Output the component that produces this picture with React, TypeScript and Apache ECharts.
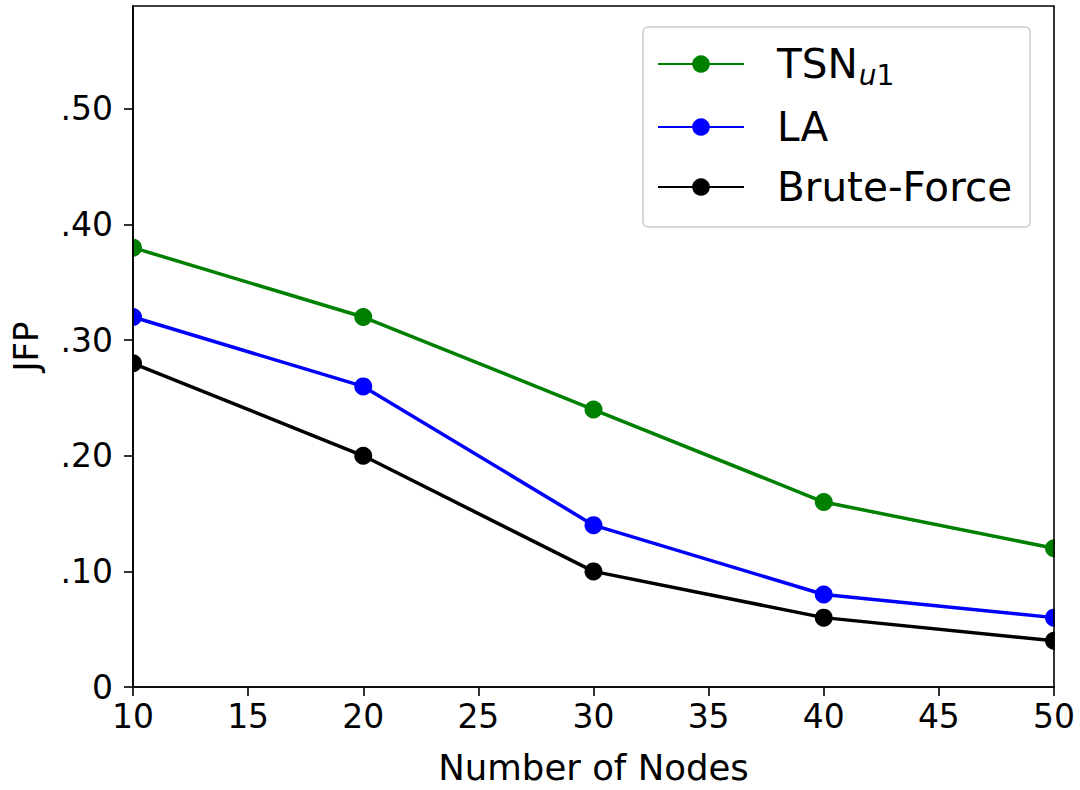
import React, { useEffect, useRef } from "react";
import * as echarts from "echarts";

// Number of nodes on the x axis
const nodes = [10, 20, 30, 40, 50];

// JFP per method
const tsnU1 = [0.38, 0.32, 0.24, 0.16, 0.12];
const la = [0.32, 0.26, 0.14, 0.08, 0.06];
const bruteForce = [0.28, 0.2, 0.1, 0.06, 0.04];

const yTicks = [0, 0.1, 0.2, 0.3, 0.4, 0.5];
const xTicks = [10, 15, 20, 25, 30, 35, 40, 45, 50];

const FONT = "DejaVu Sans";

const GRID = { left: 133, right: 26, top: 6, bottom: 97 };

export default function App() {
  const ref = useRef<HTMLDivElement>(null);

  useEffect(() => {
    if (!ref.current) return;
    const chart = echarts.init(ref.current, null, { renderer: "svg" });

    const pair = (ys: number[]) => nodes.map((x, i) => [x, ys[i]]);

    const mkSeries = (name: string, color: string, ys: number[]) => ({
      name,
      type: "line",
      data: pair(ys),
      symbol: "circle",
      symbolSize: 18,
      lineStyle: { color, width: 3.5 },
      itemStyle: { color },
      z: 2,
    });

    const W = 1080;
    const H = 790;
    const plotBottom = H - GRID.bottom;

    chart.setOption({
      animation: false,
      backgroundColor: "#ffffff",
      textStyle: { fontFamily: FONT },
      grid: {
        ...GRID,
        show: true,
        borderColor: "#000000",
        borderWidth: 1.6,
        backgroundColor: "transparent",
        z: 10,
      },
      xAxis: {
        type: "value",
        min: 10,
        max: 50,
        interval: 5,
        z: 10,
        name: "Number of Nodes",
        nameLocation: "middle",
        nameGap: 62,
        nameTextStyle: { fontFamily: FONT, fontSize: 35.5, color: "#000" },
        axisLine: { show: true, lineStyle: { color: "#000", width: 1.6 } },
        axisTick: {
          show: true,
          length: 9,
          inside: false,
          lineStyle: { color: "#000", width: 1.6 },
          customValues: xTicks,
        },
        axisLabel: {
          fontFamily: FONT,
          fontSize: 33,
          color: "#000",
          margin: 13,
          customValues: xTicks,
        },
        splitLine: { show: false },
      },
      yAxis: {
        type: "value",
        min: 0,
        max: 0.589,
        z: 10,
        name: "JFP",
        nameLocation: "middle",
        nameGap: 90,
        nameTextStyle: { fontFamily: FONT, fontSize: 34, color: "#000" },
        axisLine: { show: true, lineStyle: { color: "#000", width: 1.6 } },
        axisTick: {
          show: true,
          length: 9,
          lineStyle: { color: "#000", width: 1.6 },
          customValues: yTicks,
        },
        axisLabel: {
          fontFamily: FONT,
          fontSize: 33,
          color: "#000",
          margin: 20,
          customValues: yTicks,
          formatter: (v: number) =>
            v === 0 ? "0" : v.toFixed(2).replace(/^0/, ""),
        },
        splitLine: { show: false },
      },
      legend: {
        show: true,
        left: 643,
        top: 27,
        orient: "vertical",
        padding: [12, 18, 18, 14],
        itemWidth: 86,
        itemHeight: 22,
        itemGap: 16,
        borderColor: "#cccccc",
        borderWidth: 1.5,
        borderRadius: 5,
        backgroundColor: "#ffffff",
        textStyle: {
          fontFamily: FONT,
          fontSize: 40.5,
          lineHeight: 44,
          color: "#000",
          rich: {
            m: {
              fontFamily: FONT,
              fontSize: 40.5,
              lineHeight: 44,
              padding: [0, 0, 0, 28],
              color: "#000",
            },
            s: {
              fontFamily: FONT,
              fontSize: 28,
              fontStyle: "italic",
              lineHeight: 22,
              padding: [22, 0, 0, 1],
              color: "#000",
            },
            n: {
              fontFamily: FONT,
              fontSize: 28,
              lineHeight: 22,
              padding: [22, 0, 0, 0],
              color: "#000",
            },
          },
        },
        formatter: (name: string) =>
          name === "TSN" ? "{m|TSN}{s|u}{n|1}" : `{m|${name}}`,
        data: ["TSN", "LA", "Brute-Force"],
      },
      // Masks outside the plot so the boundary markers are cut in half,
      // kept under the axes (z 10) and above the series (z 2).
      graphic: [
        {
          type: "rect",
          z: 5,
          shape: { x: 112, y: 0, width: GRID.left - 112 - 0.8, height: plotBottom },
          style: { fill: "#ffffff" },
          silent: true,
        },
        {
          type: "rect",
          z: 5,
          shape: {
            x: W - GRID.right + 0.8,
            y: 0,
            width: GRID.right,
            height: plotBottom,
          },
          style: { fill: "#ffffff" },
          silent: true,
        },
      ],
      series: [
        mkSeries("TSN", "#008000", tsnU1),
        mkSeries("LA", "#0000ff", la),
        mkSeries("Brute-Force", "#000000", bruteForce),
      ],
    });

    return () => chart.dispose();
  }, []);

  return (
    <div
      ref={ref}
      style={{ position: "absolute", left: 0, top: 0, width: 1080, height: 790 }}
    />
  );
}
